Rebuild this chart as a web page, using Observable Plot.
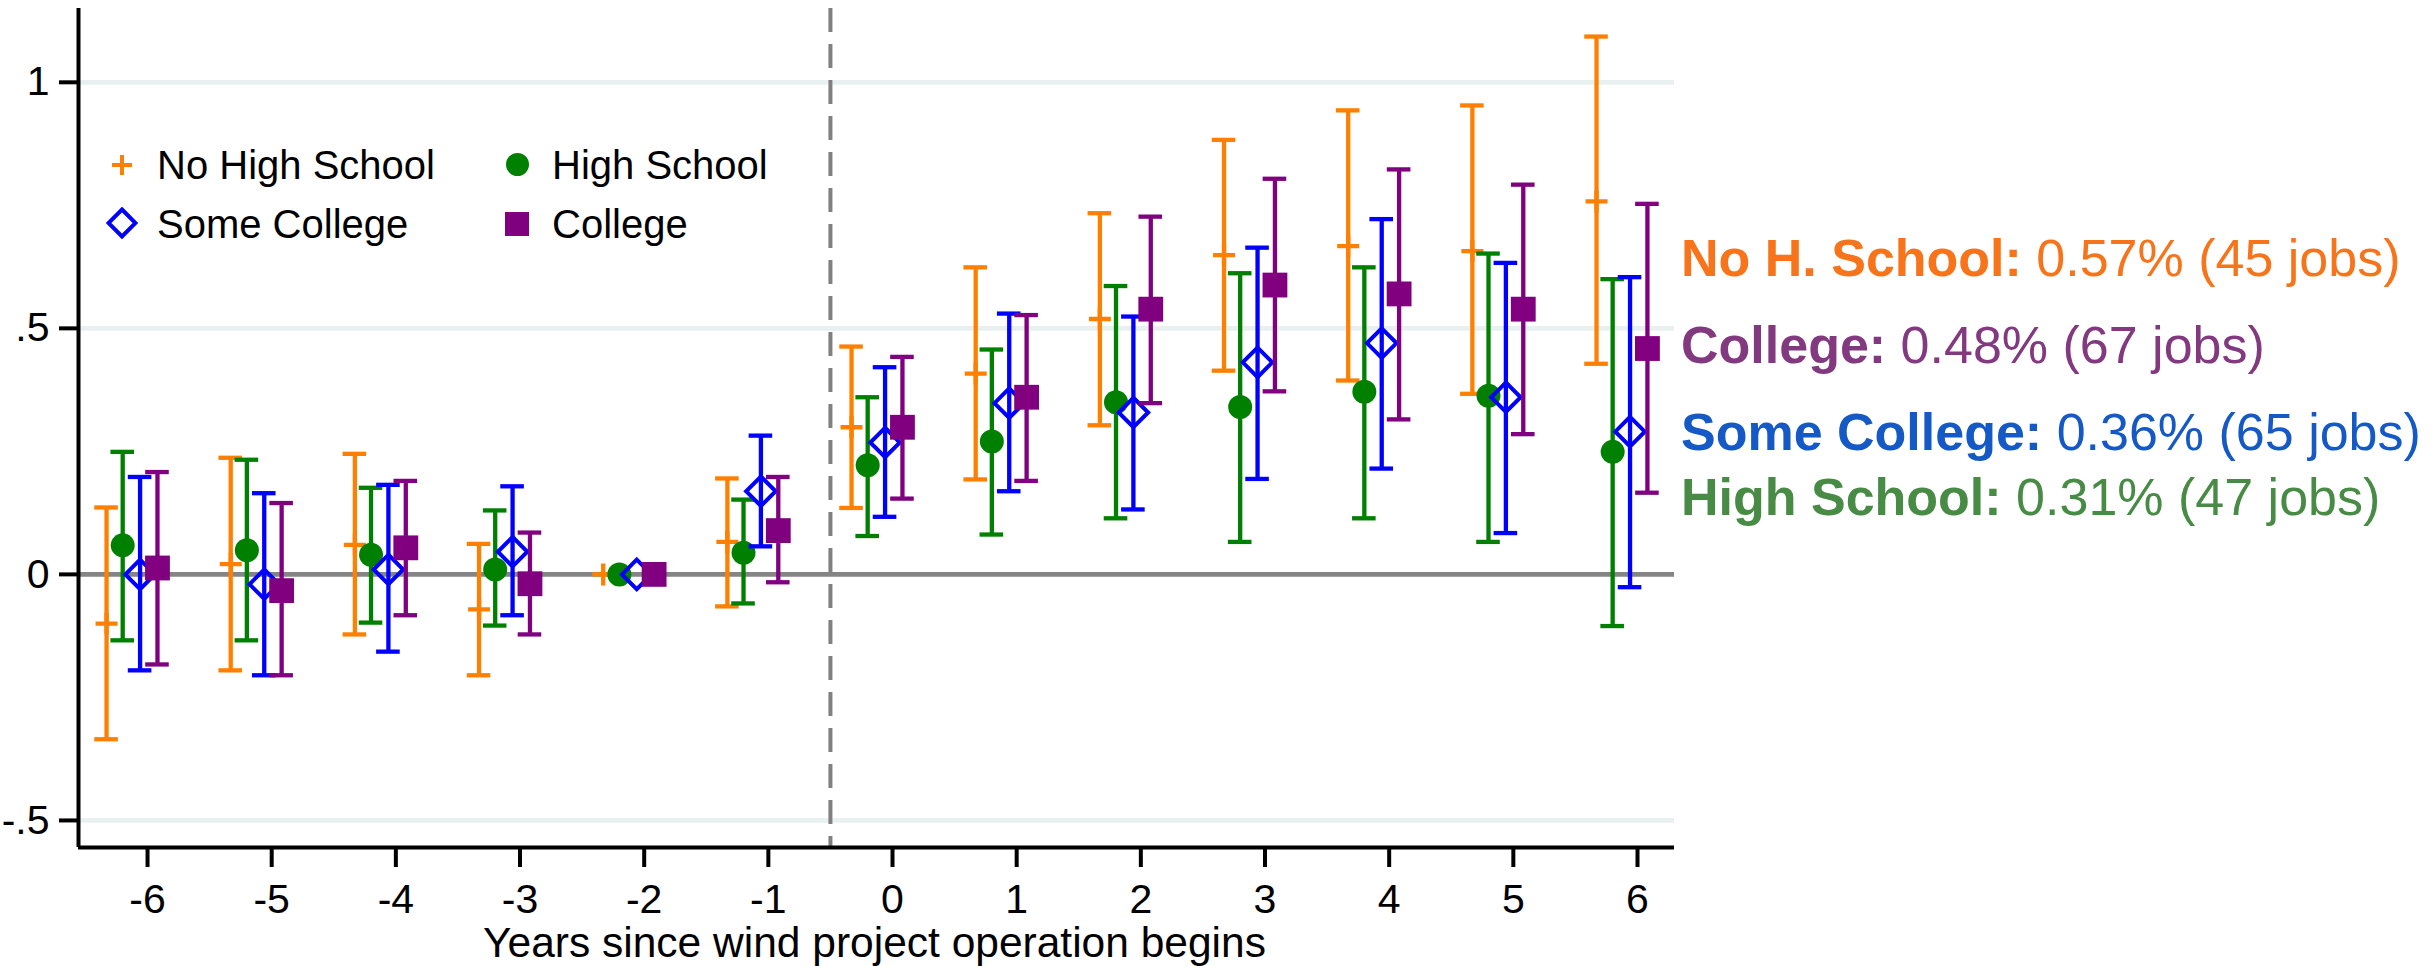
<!DOCTYPE html>
<html><head><meta charset="utf-8">
<script src="https://cdn.jsdelivr.net/npm/d3@7"></script>
<script src="https://cdn.jsdelivr.net/npm/@observablehq/plot@0.6"></script>
<style>
html,body{margin:0;padding:0;background:#fff;}
#wrap{position:relative;width:2433px;height:966px;overflow:hidden;font-family:"Liberation Sans",Arial,sans-serif;}
#wrap > svg{position:absolute;left:0;top:0;}
.leg{position:absolute;font-size:40px;line-height:40px;color:#000;white-space:nowrap;}
.sym{position:absolute;}
.ann{position:absolute;left:1681px;font-size:52px;line-height:52px;white-space:nowrap;}
.ann b{font-weight:bold;}
</style></head><body><div id="wrap"></div>
<script>
// ---- data ----
const years = [-6,-5,-4,-3,-2,-1,0,1,2,3,4,5,6];
const seriesNames = ["No High School","High School","Some College","College"];
const seriesColors = ["#FF8000","#008000","#0000FF","#800080"];

const noHS_est = [-0.100, 0.021, 0.060,-0.071,0, 0.066,0.299,0.408,0.519,0.649,0.667,0.657,0.758];
const noHS_lo  = [-0.335,-0.195,-0.122,-0.205,null,-0.065,0.135,0.193,0.303,0.414,0.394,0.367,0.428];
const noHS_hi  = [ 0.136, 0.237, 0.245, 0.062,null, 0.195,0.463,0.624,0.734,0.883,0.943,0.953,1.093];

const hs_est = [ 0.059, 0.049, 0.040, 0.010,0, 0.044,0.222,0.270,0.350,0.340,0.371,0.363, 0.249];
const hs_lo  = [-0.134,-0.134,-0.098,-0.104,null,-0.059,0.078,0.081,0.114,0.066,0.114,0.066,-0.105];
const hs_hi  = [ 0.249, 0.233, 0.176, 0.130,null, 0.152,0.360,0.457,0.586,0.612,0.624,0.652, 0.600];

const sc_est = [ 0.000,-0.020, 0.010, 0.046,0, 0.169,0.268,0.348,0.329,0.431,0.470,0.360, 0.290];
const sc_lo  = [-0.195,-0.205,-0.157,-0.083,null, 0.057,0.117,0.169,0.132,0.194,0.215,0.084,-0.026];
const sc_hi  = [ 0.198, 0.165, 0.182, 0.179,null, 0.282,0.421,0.530,0.524,0.664,0.722,0.633, 0.604];

const col_est = [ 0.013,-0.033, 0.054,-0.019,0, 0.089,0.299,0.360,0.539,0.588,0.570,0.539,0.459];
const col_lo  = [-0.183,-0.205,-0.083,-0.122,null,-0.016,0.154,0.190,0.348,0.372,0.315,0.285,0.166];
const col_hi  = [ 0.208, 0.145, 0.190, 0.085,null, 0.198,0.442,0.527,0.727,0.804,0.823,0.792,0.753];

const yTicks = [-0.5, 0, 0.5, 1];
const eventLine = -0.5;

const annotations = [
  {label: "No H. School:", value: "0.57% (45 jobs)", color: "#F7741A"},
  {label: "College:", value: "0.48% (67 jobs)", color: "#82397F"},
  {label: "Some College:", value: "0.36% (65 jobs)", color: "#1459C6"},
  {label: "High School:", value: "0.31% (47 jobs)", color: "#478B45"}
];

// ---- build table ----
const est = [noHS_est, hs_est, sc_est, col_est];
const lo = [noHS_lo, hs_lo, sc_lo, col_lo];
const hi = [noHS_hi, hs_hi, sc_hi, col_hi];
const offsets = [-0.33, -0.2, -0.06, 0.08];
const rows = [];
seriesNames.forEach((s, k) => years.forEach((yr, i) => rows.push({
  series: s, k, year: yr, x: yr + offsets[k], est: est[k][i], lo: lo[k][i], hi: hi[k][i]
})));
const ci = rows.filter(d => d.lo != null);

const xDomain = [-6.556, 6.298];
const yDomain = [-0.555, 1.150];
const capHalf = 0.095;

const plusSymbol = {draw(ctx, size) { const r = Math.sqrt(size / Math.PI); ctx.moveTo(-r, 0); ctx.lineTo(r, 0); ctx.moveTo(0, -r); ctx.lineTo(0, r); }};

const seriesMarks = [];
seriesNames.forEach((s, k) => {
  const c = seriesColors[k];
  const ciK = ci.filter(d => d.k === k);
  const ptK = rows.filter(d => d.k === k);
  seriesMarks.push(
    Plot.ruleX(ciK, {x: "x", y1: "lo", y2: "hi", stroke: c, strokeWidth: 4.3}),
    Plot.ruleY(ciK, {y: "lo", x1: d => d.x - capHalf, x2: d => d.x + capHalf, stroke: c, strokeWidth: 4.3}),
    Plot.ruleY(ciK, {y: "hi", x1: d => d.x - capHalf, x2: d => d.x + capHalf, stroke: c, strokeWidth: 4.3})
  );
  if (k === 0) seriesMarks.push(Plot.dot(ptK, {x: "x", y: "est", symbol: plusSymbol, r: 11, stroke: c, strokeWidth: 4.3, fill: "none"}));
  if (k === 1) seriesMarks.push(Plot.dot(ptK, {x: "x", y: "est", symbol: "circle", r: 12, fill: c, stroke: "none"}));
  if (k === 2) seriesMarks.push(Plot.dot(ptK, {x: "x", y: "est", symbol: "diamond2", r: 13.3, stroke: c, strokeWidth: 4, fill: "none"}));
  if (k === 3) seriesMarks.push(Plot.dot(ptK, {x: "x", y: "est", symbol: "square", r: 14, fill: c, stroke: "none"}));
});

const fmtY = d => String(d).replace("0.", ".");

const chart = Plot.plot({
  width: 2433, height: 966,
  marginLeft: 78, marginRight: 759, marginTop: 8, marginBottom: 119,
  style: {fontFamily: "'Liberation Sans', Arial, sans-serif", background: "white", color: "black"},
  x: {domain: xDomain},
  y: {domain: yDomain},
  marks: [
    Plot.ruleY(yTicks.filter(t => t !== 0), {stroke: "#E9F0F0", strokeWidth: 4.7}),
    Plot.ruleY([0], {stroke: "#858585", strokeWidth: 4.7}),
    Plot.ruleX([eventLine], {stroke: "#808080", strokeWidth: 4, strokeDasharray: "24,12"}),
    ...seriesMarks,
    Plot.ruleX([xDomain[0]], {stroke: "black", strokeWidth: 4}),
    Plot.ruleY([yDomain[0]], {stroke: "black", strokeWidth: 4}),
    Plot.axisY({ticks: yTicks, tickFormat: fmtY, tickSize: 19, tickPadding: 10, fontSize: 41, strokeWidth: 4, label: null}),
    Plot.axisX({ticks: years, tickFormat: d => String(d), tickSize: 20, tickPadding: 16, fontSize: 41, strokeWidth: 4, label: null}),
    Plot.text(["Years since wind project operation begins"], {text: d => d, frameAnchor: "bottom", dy: 96, dx: -2, fontSize: 42.5, lineAnchor: "middle", fill: "black"})
  ]
});
const wrap = document.getElementById("wrap");
wrap.appendChild(chart);

// ---- legend (inside plot, top-left) ----
const legendItems = [
  {name: seriesNames[0], sx: 122, sy: 165, tx: 157, top: 145, svg: `<path d="M1,11H21M11,1V21" stroke="${seriesColors[0]}" stroke-width="4" fill="none"/>`, w: 22},
  {name: seriesNames[1], sx: 517, sy: 164, tx: 552, top: 145, svg: `<circle cx="11.5" cy="11.5" r="11.5" fill="${seriesColors[1]}"/>`, w: 23},
  {name: seriesNames[2], sx: 122, sy: 223, tx: 157, top: 204, svg: `<path d="M16,2.5L29.5,16L16,29.5L2.5,16Z" stroke="${seriesColors[2]}" stroke-width="4" fill="none"/>`, w: 32},
  {name: seriesNames[3], sx: 517, sy: 224, tx: 552, top: 204, svg: `<rect x="0" y="0" width="24" height="24" fill="${seriesColors[3]}"/>`, w: 24}
];
legendItems.forEach(it => {
  const s = document.createElement("div");
  s.className = "sym";
  s.style.left = (it.sx - it.w / 2) + "px";
  s.style.top = (it.sy - it.w / 2) + "px";
  s.innerHTML = `<svg width="${it.w}" height="${it.w}">${it.svg}</svg>`;
  wrap.appendChild(s);
  const t = document.createElement("div");
  t.className = "leg";
  t.style.left = it.tx + "px";
  t.style.top = it.top + "px";
  t.textContent = it.name;
  wrap.appendChild(t);
});

// ---- right-hand annotations ----
const annTops = [232, 319, 406, 471];
annotations.forEach((a, i) => {
  const d = document.createElement("div");
  d.className = "ann";
  d.style.top = annTops[i] + "px";
  d.style.color = a.color;
  d.innerHTML = `<b>${a.label}</b> ${a.value}`;
  wrap.appendChild(d);
});
</script></body></html>
